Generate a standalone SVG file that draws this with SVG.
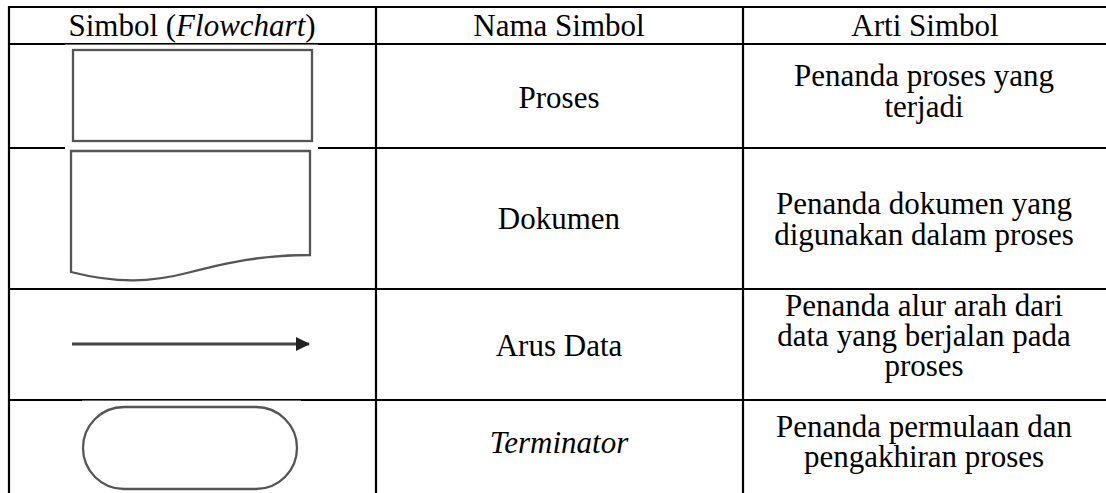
<svg xmlns="http://www.w3.org/2000/svg" width="1106" height="493" viewBox="0 0 1106 493">
  <style>
    .grid { stroke: #000; stroke-width: 2.2; fill: none; }
    .t { font-family: "Liberation Serif", "Times New Roman", serif; font-size: 31px; fill: #000; text-anchor: middle; }
    .it { font-style: italic; }
    .sym { fill: #fff; stroke: #555; stroke-width: 2.3; }
    .mask { fill: #fff; stroke: none; }
  </style>
  <defs>
    <marker id="ah" markerWidth="15" markerHeight="15" refX="13" refY="7" orient="auto" markerUnits="userSpaceOnUse">
      <path d="M0,0 L14,7 L0,14 Z" fill="#222"/>
    </marker>
  </defs>
  <rect width="1106" height="493" fill="#fff"/>

  <g id="table">
    <line class="grid" x1="8" y1="7" x2="1106" y2="7"/>
    <line class="grid" x1="8" y1="44" x2="1106" y2="44"/>
    <line class="grid" x1="8" y1="148" x2="1106" y2="148"/>
    <line class="grid" x1="8" y1="289" x2="1106" y2="289"/>
    <line class="grid" x1="8" y1="400" x2="1106" y2="400"/>
    <line class="grid" x1="9" y1="6" x2="9" y2="493"/>
    <line class="grid" x1="376" y1="6" x2="376" y2="493"/>
    <line class="grid" x1="743" y1="6" x2="743" y2="493"/>
  </g>

  <g id="header">
    <text class="t" x="192" y="36">Simbol (<tspan class="it">Flowchart</tspan>)</text>
    <text class="t" x="559" y="36">Nama Simbol</text>
    <text class="t" x="925" y="36">Arti Simbol</text>
  </g>

  <g id="row-proses">
    <rect class="mask" x="65" y="44.6" width="253" height="104.5"/>
    <rect class="sym" x="73" y="50" width="239" height="91"/>
    <text class="t" x="559" y="108">Proses</text>
    <text class="t" x="924" y="86">Penanda proses yang</text>
    <text class="t" x="924" y="117">terjadi</text>
  </g>

  <g id="row-dokumen">
    <path class="sym" d="M71,151 H310 V255 C262,255 230,262 187,273 C152,282 118,284 71,272 Z"/>
    <text class="t" x="559" y="229">Dokumen</text>
    <text class="t" x="924" y="214">Penanda dokumen yang</text>
    <text class="t" x="924" y="245">digunakan dalam proses</text>
  </g>

  <g id="row-arus">
    <line x1="72" y1="344" x2="309" y2="344" stroke="#444" stroke-width="3" marker-end="url(#ah)"/>
    <text class="t" x="559" y="356">Arus Data</text>
    <text class="t" x="924" y="316">Penanda alur arah dari</text>
    <text class="t" x="924" y="346">data yang berjalan pada</text>
    <text class="t" x="924" y="376">proses</text>
  </g>

  <g id="row-terminator">
    <rect class="mask" x="82" y="400.6" width="219" height="92.4"/>
    <rect class="sym" x="83" y="407" width="214" height="82" rx="41" ry="41"/>
    <text class="t it" x="559" y="453">Terminator</text>
    <text class="t" x="924" y="437">Penanda permulaan dan</text>
    <text class="t" x="924" y="467">pengakhiran proses</text>
  </g>
</svg>
